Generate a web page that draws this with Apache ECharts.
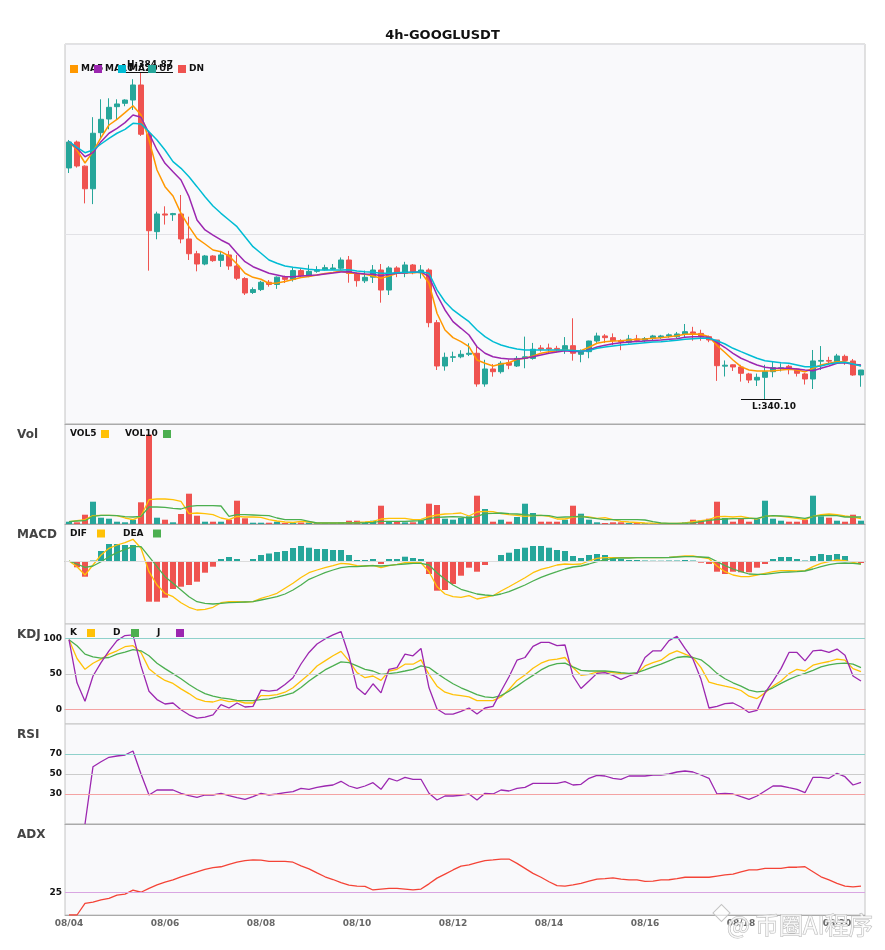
<!DOCTYPE html>
<html>
<head>
<meta charset="utf-8">
<script src="https://cdn.jsdelivr.net/npm/echarts@6/dist/echarts.min.js"></script>
<style>
html,body{margin:0;padding:0;background:#fff;}
#chart{width:885px;height:950px;}
</style>
</head>
<body>
<div id="chart"></div>
<script>
const categories = [
'08/04 00','08/04 04','08/04 08','08/04 12','08/04 16','08/04 20',
'08/05 00','08/05 04','08/05 08','08/05 12','08/05 16','08/05 20',
'08/06 00','08/06 04','08/06 08','08/06 12','08/06 16','08/06 20',
'08/07 00','08/07 04','08/07 08','08/07 12','08/07 16','08/07 20',
'08/08 00','08/08 04','08/08 08','08/08 12','08/08 16','08/08 20',
'08/09 00','08/09 04','08/09 08','08/09 12','08/09 16','08/09 20',
'08/10 00','08/10 04','08/10 08','08/10 12','08/10 16','08/10 20',
'08/11 00','08/11 04','08/11 08','08/11 12','08/11 16','08/11 20',
'08/12 00','08/12 04','08/12 08','08/12 12','08/12 16','08/12 20',
'08/13 00','08/13 04','08/13 08','08/13 12','08/13 16','08/13 20',
'08/14 00','08/14 04','08/14 08','08/14 12','08/14 16','08/14 20',
'08/15 00','08/15 04','08/15 08','08/15 12','08/15 16','08/15 20',
'08/16 00','08/16 04','08/16 08','08/16 12','08/16 16','08/16 20',
'08/17 00','08/17 04','08/17 08','08/17 12','08/17 16','08/17 20',
'08/18 00','08/18 04','08/18 08','08/18 12','08/18 16','08/18 20',
'08/19 00','08/19 04','08/19 08','08/19 12','08/19 16','08/19 20',
'08/20 00','08/20 04','08/20 08','08/20 12'];

const opens = [371.75,375.3,372.0,368.9,376.58,378.45,380.14,380.6,381.05,383.11,
376.36,363.03,365.45,365.35,365.45,362.03,360.0,358.6,359.7,359.1,
359.84,358.33,356.6,354.7,355.1,356.1,355.8,356.8,356.5,357.7,
357.0,357.6,357.8,357.9,358.02,359.15,357.33,356.3,356.8,357.78,
355.04,358.06,357.33,358.47,357.4,357.78,350.57,344.64,345.83,345.9,
346.24,346.38,342.18,344.23,343.86,345.1,344.64,345.68,345.68,347.1,
347.1,347.05,346.74,347.42,346.24,346.6,348.06,348.75,348.52,348.1,
347.9,348.34,348.15,348.43,348.55,348.75,348.65,349.02,349.3,349.1,
348.65,348.2,344.62,344.8,344.5,343.55,342.72,343.09,343.86,344.3,
344.6,344.23,343.55,342.86,345.3,345.4,345.24,345.96,345.33,343.41];
const closes = [375.3,372.02,368.9,376.5,378.41,380.05,380.51,381.05,383.11,376.36,
363.16,365.45,365.3,365.5,362.03,360.01,358.6,359.7,359.06,359.84,
358.33,356.65,354.63,355.1,356.1,355.8,356.8,356.5,357.7,357.0,
357.6,357.8,358.1,358.05,359.15,357.33,356.32,356.78,357.78,355.04,
358.06,357.33,358.47,357.4,357.78,350.57,344.64,345.83,345.9,346.24,
346.38,342.18,344.23,343.86,345.01,344.75,345.68,345.9,346.93,346.95,
346.95,346.9,347.42,346.38,346.6,348.06,348.75,348.52,348.1,347.92,
348.34,348.15,348.4,348.75,348.75,348.9,349.02,349.34,349.1,348.65,
348.2,344.68,344.75,344.5,343.64,342.72,343.09,343.86,344.41,344.4,
344.23,343.64,342.86,345.33,345.4,345.3,346.01,345.4,343.41,344.09];
const lows = [371.06,371.8,366.9,366.8,375.81,377.04,378.32,380.2,379.69,376.13,
357.69,361.99,364.0,364.5,361.44,359.15,357.6,358.43,358.9,358.2,
357.8,356.4,354.36,354.5,354.9,355.5,355.2,356.0,356.2,356.7,
356.8,357.4,357.7,357.8,357.8,356.04,355.5,356.0,356.0,353.31,
354.36,356.8,356.8,357.2,356.6,349.94,344.09,344.0,345.19,345.7,
346.0,341.8,341.8,343.18,343.6,344.2,344.5,344.33,345.5,346.6,
346.3,346.5,346.3,345.37,345.15,345.7,347.8,347.8,347.5,346.8,
347.7,347.9,347.9,348.2,348.3,348.5,348.4,348.6,348.1,348.1,
347.9,342.6,343.2,343.96,342.5,342.3,341.9,340.10,343.1,343.9,
343.5,343.2,342.1,341.49,344.09,344.8,345.2,344.8,343.3,341.8];
const highs = [375.58,375.5,372.1,378.7,381.15,381.29,381.15,381.15,383.9,384.87,
376.5,365.76,366.5,365.6,368.05,365.08,360.4,359.84,359.8,360.4,
360.4,359.84,356.8,355.4,356.3,356.4,356.9,357.0,358.1,358.0,
358.5,358.3,358.5,358.6,359.5,359.7,357.4,357.7,358.46,358.6,
358.3,358.3,358.9,358.6,358.46,358.01,350.94,346.47,346.6,346.8,
347.75,347.28,345.49,344.9,345.3,345.5,346.0,348.66,347.8,347.5,
347.7,347.4,348.6,351.17,346.9,348.1,349.2,349.0,349.1,348.3,
348.9,348.9,348.6,348.9,348.9,349.1,349.3,350.39,350.0,349.6,
348.8,348.2,345.4,344.85,344.8,343.7,343.6,344.8,345.3,345.0,
344.8,344.3,343.7,346.83,347.37,345.9,346.3,346.2,345.6,344.1];

const ma5 = [375.35,374.21,372.43,373.98,375.89,377.63,378.41,379.32,380.27,379.0,
375.58,371.47,369.19,367.91,365.54,363.71,362.12,361.34,360.52,360.29,
359.7,358.6,357.33,356.78,356.51,355.93,356.0,356.21,356.48,356.76,
356.89,357.1,357.3,357.44,357.65,357.33,357.33,357.19,356.96,356.65,
356.96,357.33,357.41,357.41,357.47,355.96,351.86,349.57,348.52,347.97,
347.28,345.46,345.01,344.64,344.92,345.09,345.56,345.7,346.01,346.38,
346.6,346.69,346.83,346.74,346.74,347.2,347.75,347.97,348.06,348.1,
348.2,348.3,348.34,348.43,348.52,348.65,348.79,348.98,349.02,348.98,
348.65,347.45,346.49,345.46,344.55,344.09,343.96,343.96,344.0,344.09,
344.19,344.09,343.86,344.33,344.78,345.01,345.23,345.23,344.92,344.68];
const ma10 = [375.35,374.44,373.29,373.84,375.35,376.5,377.18,377.95,379.0,378.69,
376.5,374.21,372.39,371.24,370.1,367.82,364.63,363.26,362.57,361.89,
361.34,360.07,358.92,358.23,357.78,357.33,357.1,356.87,356.87,356.96,
357.03,357.1,357.24,357.37,357.51,357.55,357.33,357.24,357.19,357.0,
357.19,357.33,357.41,357.47,357.51,356.87,354.36,352.31,350.71,349.8,
348.88,347.28,346.38,345.91,345.7,345.6,345.6,345.7,345.91,346.15,
346.38,346.56,346.72,346.63,346.63,346.83,347.24,347.49,347.69,347.82,
347.93,348.0,348.06,348.13,348.2,348.3,348.38,348.57,348.65,348.65,
348.57,347.86,347.17,346.38,345.7,345.23,344.78,344.46,344.33,344.33,
344.33,344.23,344.09,344.0,344.33,344.64,345.01,345.09,344.87,344.78];
const ma20 = [375.35,374.58,373.84,374.21,375.03,375.81,376.5,377.04,377.86,377.77,
376.72,375.58,374.21,372.61,371.7,370.55,369.19,367.82,366.54,365.54,
364.63,363.71,362.34,360.97,360.07,359.15,358.7,358.33,358.15,358.02,
357.88,357.78,357.78,357.78,357.78,357.8,357.65,357.55,357.47,357.33,
357.33,357.41,357.47,357.47,357.55,357.33,355.05,353.44,352.31,351.49,
350.71,349.57,348.65,347.97,347.52,347.2,346.97,346.83,346.83,346.83,
346.83,346.83,346.83,346.76,346.69,346.74,347.06,347.24,347.38,347.52,
347.61,347.72,347.83,347.93,347.97,348.06,348.16,348.3,348.38,348.43,
348.43,348.1,347.65,347.06,346.6,346.15,345.7,345.37,345.23,345.09,
345.01,344.78,344.55,344.55,344.64,344.92,345.09,345.15,344.92,344.64];

const volumes = [230,170,930,2230,630,530,230,170,430,2170,
8930,630,430,170,1000,3030,830,230,230,230,
430,2330,570,130,130,130,230,100,100,150,
150,100,100,100,170,330,330,130,330,1830,
270,270,170,170,370,2030,1900,530,430,600,
770,2830,1500,230,430,230,700,2030,1100,230,
230,230,430,1830,1030,430,170,100,170,170,
100,100,100,70,70,50,50,170,430,330,
530,2230,600,230,500,230,500,2330,530,330,
230,230,430,2830,770,630,330,230,930,330];
const vol5 = [230,330,430,830,870,870,830,600,430,770,
2430,2500,2500,2430,2270,1030,1100,1030,930,600,
430,770,700,700,670,430,300,200,150,270,
200,100,100,100,100,130,150,200,270,500,
570,570,570,430,470,730,900,1000,1030,1100,
800,1200,1270,1230,1030,930,870,770,830,870,
770,500,500,700,770,700,570,630,430,270,
200,150,100,80,70,50,50,100,230,330,
430,730,770,700,770,600,500,770,830,770,
670,570,430,770,930,1000,930,800,700,530];
const vol10 = [230,300,330,770,870,870,830,730,700,770,
1700,1700,1670,1570,1500,1770,1830,1830,1830,1800,
770,930,930,900,870,830,600,430,430,430,
270,100,100,100,100,100,100,130,170,270,
270,270,270,300,330,530,670,700,730,700,
600,770,1030,1070,1100,1030,1000,930,870,870,
830,670,700,730,770,630,530,430,430,430,
430,430,400,230,100,70,70,80,100,230,
370,450,500,530,530,570,570,770,830,800,
770,670,570,770,830,870,830,700,700,700];

const macdHist = [0,-0.63,-1.57,0.05,1.0,1.7,1.7,1.6,1.6,-0.05,
-4.07,-4.07,-3.67,-2.8,-2.57,-2.4,-2.07,-1.17,-0.57,0.2,
0.4,0.2,0,0.2,0.6,0.75,0.9,1.0,1.3,1.5,
1.33,1.2,1.2,1.1,1.1,0.6,0.1,0.1,0.2,-0.3,
0.2,0.2,0.43,0.3,0.2,-1.3,-2.97,-2.9,-2.3,-1.47,
-0.67,-1.07,-0.4,0,0.6,0.83,1.2,1.33,1.5,1.5,
1.33,1.1,1.0,0.5,0.3,0.6,0.7,0.6,0.4,0.2,
0.1,0.1,0.05,0.03,0.03,0.05,0.05,0.1,0.05,-0.17,
-0.3,-1.07,-1.3,-1.07,-1.13,-1.13,-0.67,-0.3,0.2,0.4,
0.4,0.2,0.05,0.5,0.7,0.6,0.7,0.5,-0.1,-0.2];
const dif = [0,-0.57,-1.4,-0.4,0.6,1.27,1.6,1.83,2.17,1.27,
-1.07,-2.4,-3.23,-3.57,-4.17,-4.63,-4.9,-4.83,-4.63,-4.17,
-4.07,-4.07,-4.1,-4.07,-3.73,-3.5,-3.23,-2.73,-2.23,-1.65,
-1.17,-0.9,-0.67,-0.47,-0.23,-0.3,-0.47,-0.5,-0.43,-0.67,
-0.47,-0.33,-0.17,-0.13,-0.17,-1.07,-2.57,-3.3,-3.57,-3.63,
-3.47,-3.8,-3.63,-3.47,-3.0,-2.57,-2.13,-1.67,-1.17,-0.83,
-0.63,-0.4,-0.3,-0.33,-0.3,0,0.27,0.33,0.33,0.33,
0.33,0.33,0.33,0.33,0.33,0.37,0.43,0.5,0.5,0.37,
0.23,-0.5,-1.07,-1.4,-1.57,-1.57,-1.4,-1.23,-1.07,-0.97,
-0.97,-1.0,-0.97,-0.57,-0.23,-0.07,0.1,0.03,-0.13,-0.3];
const dea = [0,-0.3,-0.63,-0.5,-0.07,0.43,0.83,1.17,1.43,1.43,
0.43,-0.57,-1.57,-2.23,-2.9,-3.57,-4.07,-4.23,-4.3,-4.23,
-4.17,-4.13,-4.1,-4.07,-3.9,-3.73,-3.57,-3.3,-2.9,-2.4,
-1.83,-1.5,-1.17,-0.9,-0.67,-0.57,-0.57,-0.5,-0.47,-0.5,
-0.43,-0.37,-0.3,-0.23,-0.23,-0.4,-1.17,-1.83,-2.4,-2.83,
-3.07,-3.3,-3.4,-3.47,-3.3,-3.07,-2.73,-2.4,-2.0,-1.63,
-1.33,-1.07,-0.8,-0.6,-0.5,-0.3,-0.07,0.1,0.27,0.3,
0.3,0.33,0.33,0.33,0.33,0.35,0.4,0.43,0.43,0.4,
0.35,-0.07,-0.47,-0.8,-1.07,-1.3,-1.33,-1.33,-1.23,-1.13,
-1.1,-1.07,-1.0,-0.8,-0.57,-0.37,-0.23,-0.2,-0.23,-0.3];

const kLine = [98.1,71.7,56.6,65.1,70.8,77.8,82.5,88.2,89.6,80.2,
57.5,48.1,41,36.8,29.2,22.6,15.1,11.8,10.8,14.2,
11.3,12.3,9.4,9.4,19.8,19.8,21.2,24.5,30.7,40.1,
49.5,61.3,68.4,75.5,81.6,68.4,51.9,44.8,47.2,41,
54.2,56.6,63.7,63.7,69.8,49.5,33,24.5,21.2,19.8,
17.9,12.7,12.7,12.7,17.9,28.3,41,48.6,58,65.1,
69.3,70.8,73.1,59,48.1,49.5,52.8,53.3,51.9,50.5,
50.5,50.9,61.3,66,69.3,77.8,82.5,77.8,73.1,59,
38.7,35.4,33,30.7,26.9,18.9,15.6,23.6,33,40.1,
50.5,56.6,54.2,62.3,65.1,67.5,70.8,69.3,57.5,53.3];
const dLine = [98.1,89.6,77.8,74.1,72.2,73.1,77.8,80.7,84,82.5,
75.5,65.1,57.5,50.5,43.4,35.4,28.3,22.6,18.9,16.5,
15.1,13.2,12.7,12.7,14.2,15.1,17.5,20.3,23.6,31,
40.1,48.1,55.7,61.3,67,66,61.3,56.6,54.2,49.5,
50.5,51.9,54.2,56.6,61.3,59,50.9,43.4,36.3,30.7,
25.9,21.2,17.9,17,19.8,25.9,33,41,48.1,55.7,
61.3,64.6,65.1,59.9,55.2,54.2,54.2,54.2,53.3,51.9,
50.9,51.9,55.7,59.9,63.7,68.4,73.1,74.5,73.1,69.8,
61.3,50.9,43.4,37.7,33,27.4,25,25.9,30.7,36.8,
42.5,47.2,50.9,55.2,59.9,62.7,64.6,65.1,63.7,59];
const jLine = [98.1,37.7,11.8,47.2,66,82.5,96.7,103.8,104.7,61.3,
25.9,14.2,8,9.4,0,-7.1,-11.8,-10.4,-7.1,7.1,
2.4,9.4,3.8,4.7,27.4,25.9,27.4,35.4,44.8,64,
80.2,92,99.1,104.7,109.4,75.5,30.7,21.2,36.3,23.6,
56.6,59,77.8,75.5,85.8,30.7,0.9,-6.1,-6.1,-2.4,
2.4,-6.1,2.4,4.7,25.9,46.2,69.3,73.1,88.7,94.3,
94.3,89.6,90.6,47.2,29.7,40.1,50.9,51.9,48.1,42.5,
47.2,50.9,73.1,82.5,82.5,96.7,102.8,85.8,70.8,42.5,
2.4,4.7,8.5,9.4,3.8,-3.8,-0.9,23.6,40.1,57.5,
80.2,80.2,68.4,82.5,83.5,80.2,84.9,76.4,47.2,40.1];

const rsi = [null,null,0,57.3,62.3,66.7,68,69,73,50,
29,34,34,34,30.7,28.3,26.7,29,29,30.7,
28.3,26.3,24.7,27.3,30.7,29,30,31.3,32.3,35.7,
34.7,36.7,38,39,42.7,38,35.7,38,41.3,34.7,
45.7,43,46.7,44.7,44.7,30.7,24,28,28,28.7,
30,24,30.7,30,34,33,35.7,36.7,40.7,40.7,
40.7,40.7,42.3,39,39.7,45.7,48.7,48,45.7,44.7,
48,48,48,49,49,50,52,53,52,49,
45.7,30,30.7,30,27.3,24.7,28,33,38,38,
36.3,34.7,31.3,46.7,46.7,45.7,50.7,47.3,39,41.7];
const adx = [15,15,20.1,20.7,21.6,22.3,23.7,24.2,25.9,25.0,
26.7,28.2,29.4,30.4,31.8,32.9,34.0,35.1,35.8,36.2,
37.3,38.2,38.9,39.2,39.1,38.6,38.6,38.6,38.2,36.6,
35.3,33.5,31.8,30.6,29.2,28.1,27.7,27.6,26.0,26.4,
26.7,26.7,26.4,26.0,26.4,28.7,31.2,33.0,34.8,36.5,
37.0,38.0,38.9,39.2,39.6,39.6,37.7,35.5,33.3,31.6,
29.6,27.9,27.7,28.2,28.9,29.9,30.8,31.0,31.3,30.8,
30.4,30.4,29.8,29.9,30.4,30.5,31.0,31.6,31.6,31.6,
31.6,32.1,32.6,33.0,34.0,34.8,34.8,35.5,35.5,35.5,
36.0,36.0,36.2,34.0,31.8,30.4,28.9,27.7,27.4,27.7];

const kdjTicks = [0,50,100];
const rsiTicks = [30,50,70];
const adxTicks = [25];
const title = '4h-GOOGLUSDT';

// ---------- styling ----------
const UP = '#26a69a', DN = '#ef5350';
const C_MA5 = '#ff9800', C_MA10 = '#9c27b0', C_MA20 = '#00bcd4';
const C_Y = '#ffc107', C_G = '#4caf50', C_P = '#9c27b0';
const FONT = 'DejaVu Sans';

const hi = Math.max(...highs), lo = Math.min(...lows);
const hiIdx = highs.indexOf(hi), loIdx = lows.indexOf(lo);
const yMin = lo * 0.99, yMax = hi * 1.01;

const candleData = opens.map((o, i) => [o, closes[i], lows[i], highs[i]]);
const volData = volumes.map((v, i) => ({value: v, itemStyle: {color: closes[i] >= opens[i] ? UP : DN}}));
const histData = macdHist.map(v => ({value: v, itemStyle: {color: v >= 0 ? UP : DN}}));

const panels = [
  {top: 44, height: 380},
  {top: 424, height: 100},
  {top: 524, height: 100},
  {top: 624, height: 100},
  {top: 724, height: 100},
  {top: 824, height: 91}
];
const grid = panels.map(p => ({
  left: 65, right: 20, top: p.top, height: p.height,
  show: true, backgroundColor: '#f9f9fb', borderColor: '#c4c4c4', borderWidth: 1
}));
const xAxis = panels.map((p, i) => ({
  type: 'category', gridIndex: i, data: categories, boundaryGap: true,
  axisLine: {show: true, lineStyle: {color: '#aaaaaa', width: 1}},
  axisTick: {show: false}, splitLine: {show: false},
  axisLabel: i === 5 ? {
    show: true, interval: 11, formatter: v => v.slice(0, 5),
    color: '#666', fontWeight: 'bold', fontSize: 9, fontFamily: FONT, margin: 4
  } : {show: false}
}));
const lbl = (ticks) => ({
  show: true, color: '#111', fontWeight: 'bold', fontSize: 9, fontFamily: FONT, margin: 3,
  formatter: v => ticks.indexOf(Math.round(v)) >= 0 && Math.abs(v - Math.round(v)) < 1e-6 ? String(Math.round(v)) : ''
});
const yBase = {axisTick: {show: false}, axisLine: {show: false}, splitLine: {show: false}};
const yAxis = [
  Object.assign({}, yBase, {gridIndex: 0, scale: true, min: yMin, max: yMax, interval: (yMax - yMin) / 2,
    axisLabel: {show: false}, splitLine: {show: true, lineStyle: {color: '#e2e2e6', width: 1}}}),
  Object.assign({}, yBase, {gridIndex: 1, min: 0, max: 10000, axisLabel: {show: false}}),
  Object.assign({}, yBase, {gridIndex: 2, min: -6.3, max: 3.7, axisLabel: {show: false}}),
  Object.assign({}, yBase, {gridIndex: 3, min: -20, max: 120, interval: 10, axisLabel: lbl(kdjTicks)}),
  Object.assign({}, yBase, {gridIndex: 4, min: 0, max: 100, interval: 10, axisLabel: lbl(rsiTicks)}),
  Object.assign({}, yBase, {gridIndex: 5, min: 15, max: 55, interval: 5, axisLabel: lbl(adxTicks)})
];

const hLine = (vals, colors) => ({
  silent: true, symbol: ['none', 'none'], label: {show: false}, animation: false,
  data: vals.map((v, k) => ({yAxis: v, lineStyle: {color: colors[k], width: 1, type: 'solid'}}))
});
const line = (name, data, color, xi, width, extra) => Object.assign({
  name, type: 'line', data, xAxisIndex: xi, yAxisIndex: xi,
  showSymbol: false, symbol: 'none', connectNulls: false,
  lineStyle: {color, width: width || 1.2}, itemStyle: {color}, z: 3
}, extra || {});

const series = [
  {
    name: 'K', type: 'candlestick', data: candleData, xAxisIndex: 0, yAxisIndex: 0,
    barWidth: 6,
    itemStyle: {color: UP, color0: DN, borderColor: UP, borderColor0: DN, borderWidth: 1},
    markLine: {
      silent: true, symbol: ['none', 'none'], label: {show: false}, animation: false,
      lineStyle: {color: '#111', width: 1, type: 'solid'},
      data: [
        [{coord: [hiIdx - 2, hi]}, {coord: [hiIdx + 4, hi]}],
        [{coord: [loIdx - 3, lo]}, {coord: [loIdx + 2, lo]}]
      ]
    },
    markPoint: {
      silent: true, symbol: 'circle', symbolSize: 1, animation: false,
      itemStyle: {color: 'rgba(0,0,0,0)'},
      label: {show: true, formatter: '{b}', color: '#111', fontWeight: 'bold', fontSize: 9, fontFamily: FONT},
      data: [
        {name: 'H:' + hi.toFixed(2), coord: [hiIdx, hi], value: hi, label: {position: 'top', distance: 2, offset: [9, 0]}},
        {name: 'L:' + lo.toFixed(2), coord: [loIdx, lo], value: lo, label: {position: 'bottom', distance: 3, offset: [9, 0]}}
      ]
    }
  },
  line('MA5', ma5, C_MA5, 0, 1.5),
  line('MA10', ma10, C_MA10, 0, 1.5),
  line('MA20', ma20, C_MA20, 0, 1.5),
  {name: 'Vol', type: 'bar', data: volData, xAxisIndex: 1, yAxisIndex: 1, barWidth: 6},
  line('VOL5', vol5, C_Y, 1, 1.3),
  line('VOL10', vol10, C_G, 1, 1.3),
  {name: 'MACD', type: 'bar', data: histData, xAxisIndex: 2, yAxisIndex: 2, barWidth: 6,
    markLine: hLine([0], ['#dcdcdc'])},
  line('DIF', dif, C_Y, 2, 1.3),
  line('DEA', dea, C_G, 2, 1.3),
  line('Kv', kLine, C_Y, 3, 1.3, {markLine: hLine([100, 50, 0], ['#8fd1cb', '#cccccc', '#f4a3a3'])}),
  line('Dv', dLine, C_G, 3, 1.3),
  line('Jv', jLine, C_P, 3, 1.3),
  line('RSI', rsi, C_P, 4, 1.3, {markLine: hLine([70, 50, 30], ['#8fd1cb', '#cccccc', '#f4a3a3'])}),
  line('ADX', adx, '#f44336', 5, 1.3, {markLine: hLine([25], ['#d9a6e2'])})
];

// ---------- legends / labels drawn as graphic text ----------
const txt = (x, y, text, size, color, extra) => Object.assign({
  type: 'text', x, y, z: 100, silent: true,
  style: Object.assign({text, fill: color || '#111', font: 'bold ' + size + 'px ' + FONT,
    align: 'left', verticalAlign: 'middle', textAlign: 'left', textVerticalAlign: 'middle'}, extra || {})
}, {});
const box = (x, y, color) => ({type: 'rect', z: 101, silent: true, shape: {x, y: y - 4, width: 8, height: 8}, style: {fill: color}});

const graphic = [
  // main legend: texts first, icons on top
  txt(81, 69, 'MA5', 9), txt(105, 69, 'MA10', 9), txt(129, 69, 'MA20', 9),
  txt(159, 69, 'UP', 9), txt(189, 69, 'DN', 9),
  box(70, 69, C_MA5), box(94, 69, C_MA10), box(118, 69, C_MA20), box(148, 69, UP), box(178, 69, DN),
  // panel labels
  txt(17, 435, 'Vol', 12, '#444'), txt(17, 535, 'MACD', 12, '#444'), txt(17, 635, 'KDJ', 12, '#444'),
  txt(17, 735, 'RSI', 12, '#444'), txt(17, 835, 'ADX', 12, '#444'),
  // sub legends
  txt(70, 434, 'VOL5', 9), box(101, 434, C_Y), txt(125, 434, 'VOL10', 9), box(163, 434, C_G),
  txt(70, 533.5, 'DIF', 9), box(97, 533.5, C_Y), txt(123, 533.5, 'DEA', 9), box(153, 533.5, C_G),
  txt(70, 633, 'K', 9), box(87, 633, C_Y), txt(113, 633, 'D', 9), box(131, 633, C_G),
  txt(157, 633, 'J', 9), box(176, 633, C_P),
  // watermark
  {type: 'text', x: 727, y: 925, z: 200, silent: true,
   style: {text: '@ 币圈AI程序', font: '24px "Noto Sans CJK SC"', fill: 'rgba(255,255,255,0.75)',
     stroke: '#b8b8b8', lineWidth: 1, align: 'left', verticalAlign: 'middle', textAlign: 'left', textVerticalAlign: 'middle'}},
  {type: 'rect', z: 200, silent: true, rotation: Math.PI / 4, x: 713, y: 913,
   shape: {x: 0, y: 0, width: 12, height: 12}, style: {fill: 'rgba(255,255,255,0.6)', stroke: '#c4c4c4', lineWidth: 1}}
];

const chart = echarts.init(document.getElementById('chart'), null, {renderer: 'canvas'});
chart.setOption({
  animation: false,
  backgroundColor: '#ffffff',
  title: {text: title, left: 'center', top: 24,
    textStyle: {fontSize: 13, fontWeight: 'bold', color: '#111', fontFamily: FONT}},
  grid, xAxis, yAxis, series, graphic,
  textStyle: {fontFamily: FONT}
});
</script>
</body>
</html>
